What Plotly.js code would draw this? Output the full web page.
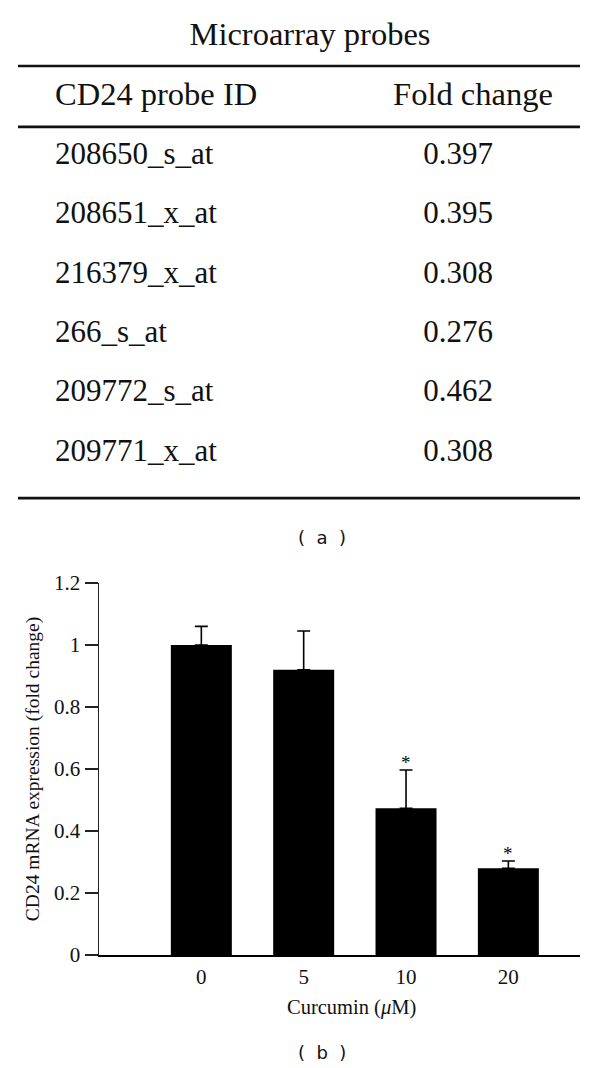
<!DOCTYPE html>
<html>
<head>
<meta charset="utf-8">
<script src="https://cdn.plot.ly/plotly-3.0.1.min.js"></script>
<style>
  html, body { margin: 0; padding: 0; background: #ffffff; }
  #chart { width: 600px; height: 1068px; }
</style>
</head>
<body>
<div id="chart"></div>
<script>
// ---- Table (a) data ----
const tableTitle = 'Microarray probes';
const headerLabels = ['CD24 probe ID', 'Fold change'];
const probeIds = ['208650_s_at', '208651_x_at', '216379_x_at', '266_s_at', '209772_s_at', '209771_x_at'];
const foldChanges = [0.397, 0.395, 0.308, 0.276, 0.462, 0.308];

// ---- Bar chart (b) data ----
const doses = ['0', '5', '10', '20'];
const expression = [1.0, 0.92, 0.473, 0.28];
const errorUp = [0.06, 0.125, 0.124, 0.023];
const significance = ['', '', '*', '*'];
const yTickVals = [0, 0.2, 0.4, 0.6, 0.8, 1, 1.2];
const yTickText = ['0', '0.2', '0.4', '0.6', '0.8', '1', '1.2'];

const SERIF = 'Liberation Serif';
const SANS = 'DejaVu Sans';

// Table row indices: -1 title, 0 header, 1..n data rows
const rowIdx = probeIds.map((_, i) => i + 1);
const leftColX = 55, rightValX = 458, rightHeadX = 473, titleX = 310;
const HEAD = { family: SERIF, size: 32.5, color: '#111' };
const CELL = { family: SERIF, size: 31, color: '#111' };

const traces = [];

function textTrace(x, y, text, pos, font) {
  return {
    type: 'scatter', mode: 'text', xaxis: 'x2', yaxis: 'y2',
    x: x, y: y, text: text, textposition: pos, textfont: font,
    hoverinfo: 'skip', showlegend: false, cliponaxis: false
  };
}
traces.push(textTrace([titleX], [-1], [tableTitle], 'middle center', HEAD));
traces.push(textTrace([leftColX], [0], [headerLabels[0]], 'middle right', HEAD));
traces.push(textTrace([rightHeadX], [0], [headerLabels[1]], 'middle center', HEAD));
traces.push(textTrace(probeIds.map(() => leftColX), rowIdx, probeIds, 'middle right', CELL));
traces.push(textTrace(foldChanges.map(() => rightValX), rowIdx, foldChanges.map(v => v.toFixed(3)), 'middle center', CELL));

// Bars
traces.push({
  type: 'bar', x: doses, y: expression,
  marker: { color: '#000000', line: { width: 0 } },
  error_y: {
    type: 'data', symmetric: false, array: errorUp, arrayminus: errorUp.map(() => 0),
    color: '#000000', thickness: 1.6, width: 6.5
  },
  hoverinfo: 'x+y', showlegend: false
});

// Significance asterisks placed on the error-bar tops (category index on x)
const sigAnnotations = doses.map((d, i) => ({
  xref: 'x', yref: 'y', x: i, y: expression[i] + errorUp[i],
  text: significance[i], showarrow: false, xanchor: 'center', yanchor: 'bottom', yshift: -5,
  font: { family: SERIF, size: 19, color: '#000' }
})).filter(a => a.text !== '');

const rowTop = 96.6, rowStep = 59.4;
const y2Range = [(534 - rowTop) / rowStep, (0 - rowTop) / rowStep];

const layout = {
  width: 600, height: 1068,
  margin: { l: 0, r: 0, t: 0, b: 0 },
  paper_bgcolor: '#ffffff', plot_bgcolor: 'rgba(0,0,0,0)',
  showlegend: false,
  bargap: 0.404,
  xaxis: {
    type: 'category', domain: [99 / 600, 580 / 600], range: [-1, 3.7],
    showline: true, linecolor: '#000', linewidth: 1.5,
    ticks: '', showgrid: false, zeroline: false,
    tickfont: { family: SERIF, size: 21, color: '#111' },
    ticklabelstandoff: 2, fixedrange: true
  },
  yaxis: {
    domain: [(1068 - 955) / 1068, (1068 - 583) / 1068], range: [0, 1.2],
    tickvals: yTickVals, ticktext: yTickText,
    showline: true, linecolor: '#222', linewidth: 1.5,
    ticks: 'outside', ticklen: 13, tickwidth: 1.5, tickcolor: '#222',
    showgrid: false, zeroline: false,
    tickfont: { family: SERIF, size: 21, color: '#111' },
    title: { text: 'CD24 mRNA expression (fold change)', font: { family: SERIF, size: 19.5, color: '#111' }, standoff: 9 },
    automargin: false, fixedrange: true
  },
  xaxis2: { domain: [0, 1], range: [0, 600], anchor: 'y2', visible: false, fixedrange: true },
  yaxis2: { domain: [0.5, 1], range: y2Range, anchor: 'x2', visible: false, fixedrange: true },
  shapes: [
    { type: 'line', xref: 'paper', yref: 'y2', x0: 18 / 600, x1: 580 / 600, y0: -0.515, y1: -0.515, line: { color: '#111', width: 2.6 } },
    { type: 'line', xref: 'paper', yref: 'y2', x0: 18 / 600, x1: 580 / 600, y0: 0.51, y1: 0.51, line: { color: '#111', width: 2.6 } },
    { type: 'line', xref: 'paper', yref: 'y2', x0: 18 / 600, x1: 580 / 600, y0: 6.76, y1: 6.76, line: { color: '#111', width: 2.6 } }
  ],
  annotations: [
    { xref: 'paper', yref: 'paper', x: 351 / 600, y: (1068 - 1007) / 1068, xanchor: 'center', yanchor: 'middle',
      text: 'Curcumin (<i>μ</i>M)', showarrow: false, font: { family: SERIF, size: 20.5, color: '#111' } },
    { xref: 'paper', yref: 'paper', x: 322 / 600, y: (1068 - 537) / 1068, xanchor: 'center', yanchor: 'middle',
      text: '(  a  )', showarrow: false, font: { family: SANS, size: 18, color: '#111' } },
    { xref: 'paper', yref: 'paper', x: 322 / 600, y: (1068 - 1052) / 1068, xanchor: 'center', yanchor: 'middle',
      text: '(  b  )', showarrow: false, font: { family: SANS, size: 18, color: '#111' } }
  ].concat(sigAnnotations)
};

Plotly.newPlot('chart', traces, layout, { displayModeBar: false, staticPlot: true });
</script>
</body>
</html>
